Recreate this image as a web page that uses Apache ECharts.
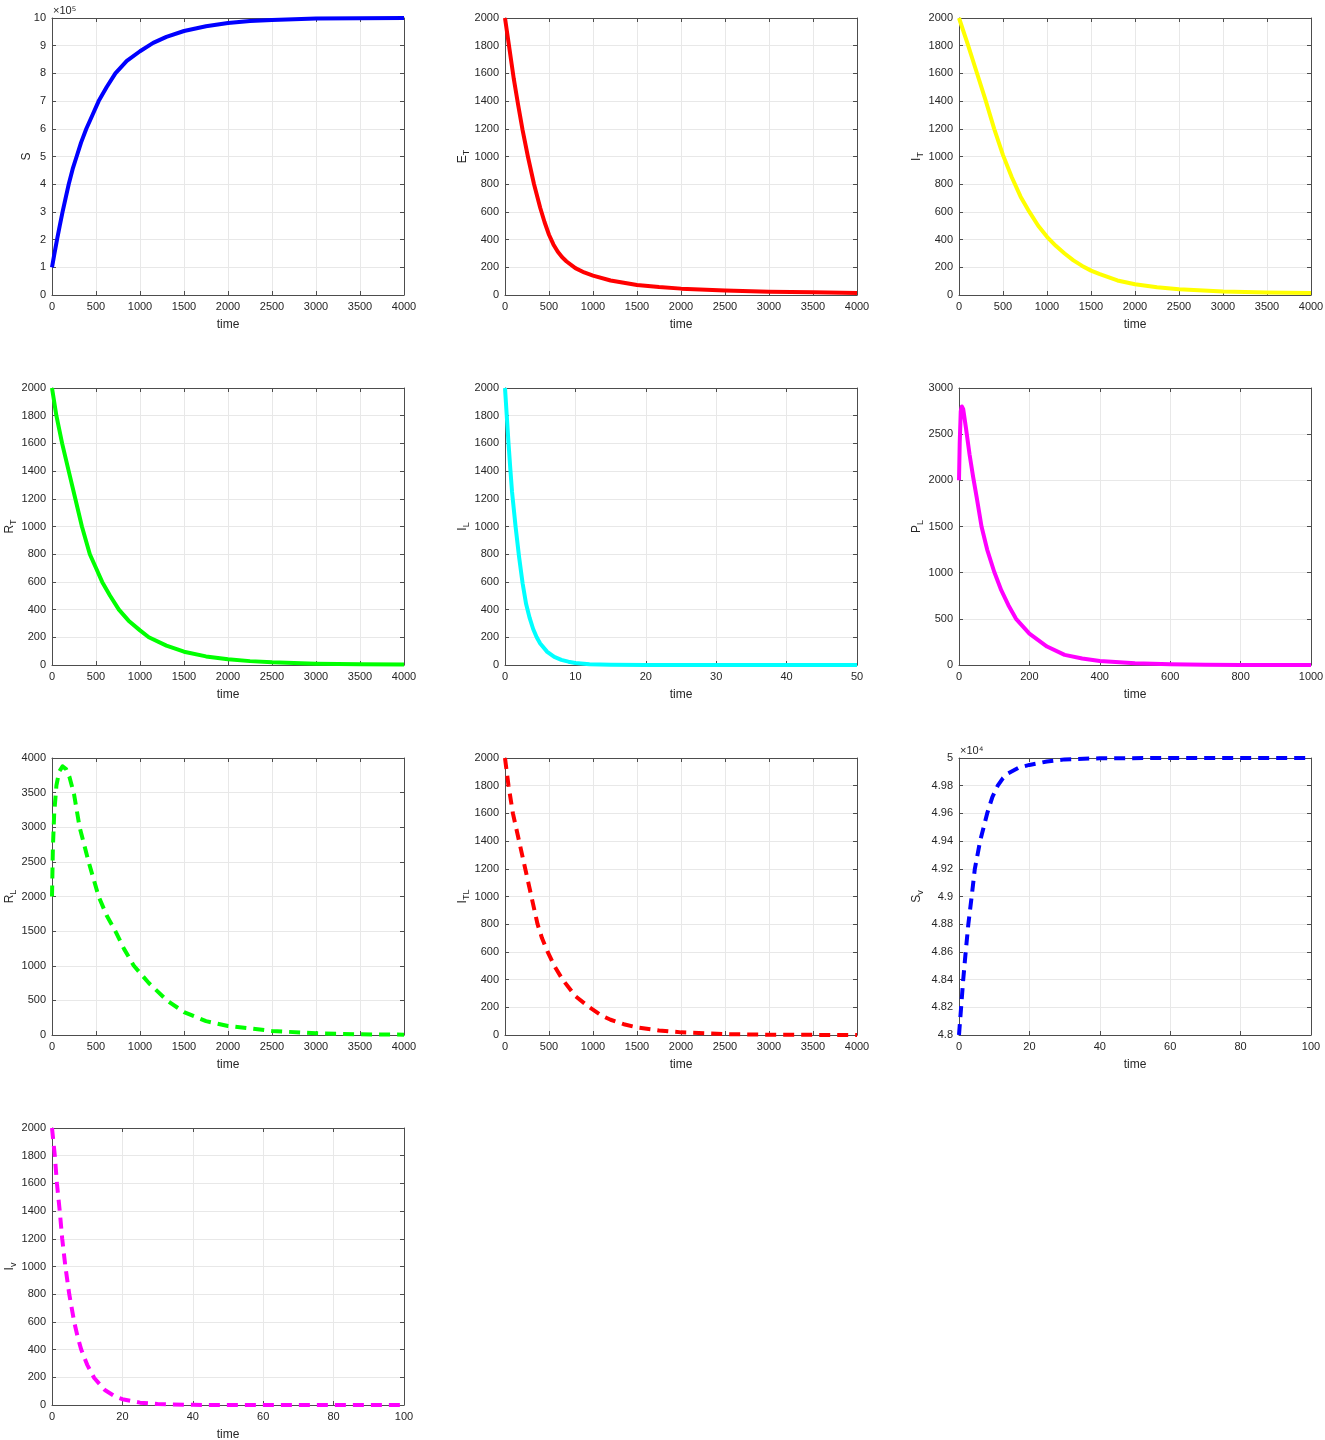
<!DOCTYPE html>
<html>
<head>
<meta charset="utf-8">
<script src="https://cdn.jsdelivr.net/npm/echarts@6/dist/echarts.min.js"></script>
<style>
html, body { margin: 0; padding: 0; background: #fff; }
#main { width: 1325px; height: 1440px; }
</style>
</head>
<body>
<div id="main"></div>
<script>
// S
const sTime = [0, 25, 57, 90, 120, 155, 190, 235, 280, 330, 390, 460, 530, 620, 720, 850, 1000, 1150, 1300, 1500, 1750, 2000, 2250, 2500, 3000, 3500, 4000];
const sVal = [100000, 145000, 200000, 253000, 300000, 350000, 400000, 455000, 500000, 550000, 600000, 650000, 700000, 750000, 800000, 845000, 880000, 910000, 932000, 953000, 970000, 982000, 989000, 993000, 998000, 999000, 1000000];
// E_T
const eTime = [0, 25, 50, 75, 100, 150, 200, 260, 330, 400, 450, 500, 550, 600, 650, 700, 800, 900, 1000, 1200, 1500, 1750, 2000, 2500, 3000, 3500, 4000];
const eVal = [2000, 1890, 1780, 1670, 1560, 1370, 1190, 1000, 800, 630, 525, 435, 365, 312, 272, 242, 194, 163, 140, 105, 72, 57, 46, 32, 24, 19, 15];
// I_T
const itTime = [0, 100, 200, 300, 400, 500, 600, 700, 800, 900, 1000, 1100, 1200, 1300, 1400, 1500, 1600, 1800, 2000, 2250, 2500, 3000, 3500, 4000];
const itVal = [2000, 1810, 1610, 1410, 1200, 1010, 850, 710, 600, 500, 420, 355, 300, 250, 210, 176, 150, 105, 78, 56, 42, 26, 18, 14];
// R_T
const rtTime = [0, 50, 115, 190, 265, 340, 430, 500, 570, 660, 760, 870, 1000, 1100, 1300, 1500, 1750, 2000, 2250, 2500, 3000, 3500, 4000];
const rtVal = [2000, 1800, 1600, 1400, 1200, 1000, 800, 700, 600, 500, 400, 320, 250, 200, 140, 96, 62, 41, 28, 19, 9, 5, 3];
// I_L
const ilTime = [0, 0.25, 0.5, 0.75, 1, 1.5, 2, 2.5, 3, 3.5, 4, 4.5, 5, 6, 7, 8, 9, 10, 12, 15, 20, 30, 40, 50];
const ilVal = [2000, 1800, 1600, 1420, 1250, 1000, 780, 590, 440, 340, 260, 200, 155, 95, 58, 37, 24, 15, 6, 2, 0.5, 0, 0, 0];
// P_L
const plTime = [0, 2, 5, 8, 12, 20, 30, 40, 50, 64, 80, 100, 120, 140, 162, 200, 250, 300, 350, 400, 500, 600, 700, 800, 1000];
const plVal = [2000, 2400, 2750, 2800, 2770, 2560, 2280, 2040, 1820, 1500, 1250, 1010, 810, 650, 500, 340, 200, 110, 70, 43, 18, 7, 3, 1, 0];
// R_L
const rlTime = [0, 10, 25, 50, 80, 120, 160, 200, 250, 314, 416, 530, 620, 720, 820, 930, 1100, 1306, 1500, 1750, 2000, 2500, 3000, 3500, 4000];
const rlVal = [2000, 2700, 3200, 3600, 3800, 3880, 3840, 3720, 3480, 3000, 2500, 2000, 1730, 1500, 1240, 1000, 750, 500, 330, 200, 130, 58, 25, 10, 5];
// I_TL
const itlTime = [0, 40, 90, 160, 230, 300, 370, 420, 485, 560, 655, 800, 960, 1100, 1200, 1350, 1500, 1750, 2000, 2500, 3000, 3500, 4000];
const itlVal = [2000, 1800, 1600, 1400, 1200, 1000, 800, 700, 600, 500, 400, 280, 200, 140, 110, 78, 55, 33, 19, 6, 2, 1, 0];
// S_v
const svTime = [0, 0.6, 1.2, 1.9, 2.65, 3.6, 4.5, 6, 8, 9.5, 11, 12.5, 14, 17, 20, 25, 30, 40, 60, 100];
const svVal = [48000, 48200, 48400, 48600, 48800, 49000, 49200, 49400, 49600, 49720, 49800, 49855, 49890, 49930, 49950, 49975, 49990, 49998, 50000, 50000];
// I_v
const ivTime = [0, 0.8, 1.4, 2.2, 2.9, 3.8, 4.9, 6.3, 7.3, 8.3, 10, 12, 15, 18, 20, 25, 30, 40, 60, 100];
const ivVal = [2000, 1800, 1600, 1400, 1200, 1000, 800, 600, 490, 400, 290, 195, 108, 60, 42, 17, 7, 1, 0, 0];

const FONT = '"Liberation Sans", Arial, Helvetica, sans-serif';
const TXT = '#262626';
const BOX = '#4d4d4d';

const panels = [
    { name: 'S', sub: '', t: sTime, v: sVal, color: '#0000ff', dash: false, xmax: 4000, xint: 500, ymin: 0, ymax: 1000000, yint: 100000, scale: 1e5, exp: '⁵', gap: 17 },
    { name: 'E', sub: 'T', t: eTime, v: eVal, color: '#ff0000', dash: false, xmax: 4000, xint: 500, ymin: 0, ymax: 2000, yint: 200, gap: 34 },
    { name: 'I', sub: 'T', t: itTime, v: itVal, color: '#ffff00', dash: false, xmax: 4000, xint: 500, ymin: 0, ymax: 2000, yint: 200, gap: 34 },
    { name: 'R', sub: 'T', t: rtTime, v: rtVal, color: '#00ff00', dash: false, xmax: 4000, xint: 500, ymin: 0, ymax: 2000, yint: 200, gap: 34 },
    { name: 'I', sub: 'L', t: ilTime, v: ilVal, color: '#00ffff', dash: false, xmax: 50, xint: 10, ymin: 0, ymax: 2000, yint: 200, gap: 34 },
    { name: 'P', sub: 'L', t: plTime, v: plVal, color: '#ff00ff', dash: false, xmax: 1000, xint: 200, ymin: 0, ymax: 3000, yint: 500, gap: 34 },
    { name: 'R', sub: 'L', t: rlTime, v: rlVal, color: '#00ff00', dash: true, xmax: 4000, xint: 500, ymin: 0, ymax: 4000, yint: 500, gap: 34 },
    { name: 'I', sub: 'TL', t: itlTime, v: itlVal, color: '#ff0000', dash: true, xmax: 4000, xint: 500, ymin: 0, ymax: 2000, yint: 200, gap: 34 },
    { name: 'S', sub: 'v', t: svTime, v: svVal, color: '#0000ff', dash: true, xmax: 100, xint: 20, ymin: 48000, ymax: 50000, yint: 200, scale: 1e4, exp: '⁴', gap: 34 },
    { name: 'I', sub: 'v', t: ivTime, v: ivVal, color: '#ff00ff', dash: true, xmax: 100, xint: 20, ymin: 0, ymax: 2000, yint: 200, gap: 34 }
];

const colLeft = [52, 505, 959];
const rowTop = [18, 388, 758, 1128];
const W = 352, H = 277;

const chart = echarts.init(document.getElementById('main'));
const option = { animation: false, grid: [], xAxis: [], yAxis: [], series: [], graphic: [] };

panels.forEach((p, i) => {
    const left = colLeft[i % 3];
    const top = rowTop[Math.floor(i / 3)];
    option.grid.push({ left: left, top: top, width: W, height: H, show: false, outerBoundsMode: 'none', containLabel: false });

    const tick = { show: true, inside: true, length: 4, lineStyle: { color: BOX } };
    const line = { show: true, onZero: false, lineStyle: { color: BOX, width: 1 } };
    const label = { color: TXT, fontSize: 11, fontFamily: FONT };

    // bottom axis with labels
    option.xAxis.push({
        gridIndex: i, type: 'value', min: 0, max: p.xmax, interval: p.xint,
        name: 'time', nameLocation: 'middle', nameGap: 24, nameMoveOverlap: false,
        nameTextStyle: { color: TXT, fontSize: 12, fontFamily: FONT },
        axisLine: line, axisTick: tick,
        axisLabel: Object.assign({ margin: 6, formatter: v => String(v) }, label),
        splitLine: { show: true, lineStyle: { color: '#e8e8e8' } }
    });
    // top border with ticks
    option.xAxis.push({
        gridIndex: i, type: 'value', position: 'top', min: 0, max: p.xmax, interval: p.xint,
        axisLine: line, axisTick: tick, axisLabel: { show: false }, splitLine: { show: false }
    });

    const yName = p.sub ? '{m|' + p.name + '}{s|' + p.sub + '}' : '{m|' + p.name + '}';
    option.yAxis.push({
        gridIndex: i, type: 'value', min: p.ymin, max: p.ymax, interval: p.yint,
        name: yName, nameLocation: 'middle', nameGap: p.gap, nameRotate: 90, nameMoveOverlap: false,
        nameTextStyle: {
            rich: {
                m: { color: TXT, fontSize: 12, fontFamily: FONT, lineHeight: 16 },
                s: { color: TXT, fontSize: 9, fontFamily: FONT, lineHeight: 16, verticalAlign: 'bottom', padding: [6, 0, 0, 0] }
            }
        },
        axisLine: line, axisTick: tick,
        axisLabel: Object.assign({
            margin: 6,
            formatter: v => p.scale ? String(parseFloat((v / p.scale).toFixed(2))) : String(v)
        }, label),
        splitLine: { show: true, lineStyle: { color: '#e8e8e8' } }
    });
    // right border with ticks
    option.yAxis.push({
        gridIndex: i, type: 'value', position: 'right', min: p.ymin, max: p.ymax, interval: p.yint,
        axisLine: line, axisTick: tick, axisLabel: { show: false }, splitLine: { show: false }
    });

    option.series.push({
        type: 'line', xAxisIndex: i * 2, yAxisIndex: i * 2,
        data: p.t.map((t, k) => [t, p.v[k]]),
        showSymbol: false, smooth: false, clip: false,
        lineStyle: { color: p.color, width: 4, type: p.dash ? [11, 7] : 'solid', join: 'round' }
    });

    if (p.exp) {
        option.graphic.push({
            type: 'text', left: left + 1, top: top - 13,
            style: { text: '×10' + p.exp, fill: TXT, fontSize: 11, fontFamily: FONT }
        });
    }
});

chart.setOption(option);
</script>
</body>
</html>
